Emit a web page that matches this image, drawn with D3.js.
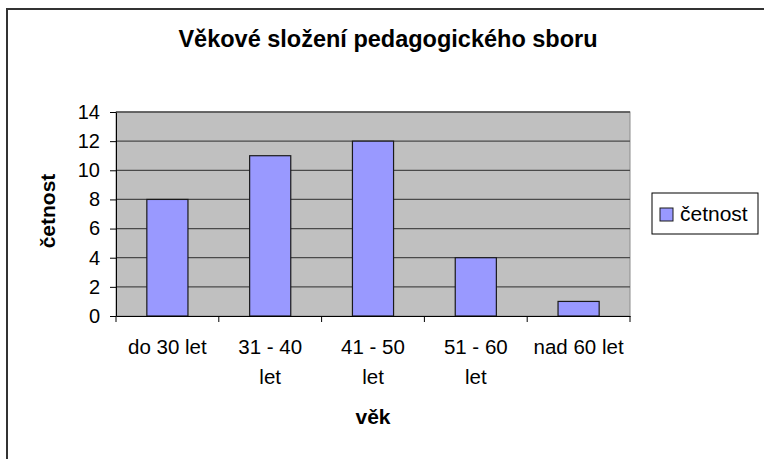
<!DOCTYPE html>
<html>
<head>
<meta charset="utf-8">
<script src="https://cdn.jsdelivr.net/npm/d3@7"></script>
<style>
  body { margin: 0; background: #fff; }
  svg { display: block; font-family: 'Liberation Sans', Arial, sans-serif; }
</style>
</head>
<body>
<svg id="chart" width="764" height="459"></svg>
<script>
/* global d3 */
const categories = ['do 30 let', '31 - 40\nlet', '41 - 50\nlet', '51 - 60\nlet', 'nad 60 let']
const counts = [8, 11, 12, 4, 1]
const yTicks = [0, 2, 4, 6, 8, 10, 12, 14]
const seriesName = 'četnost'

const svg = d3.select('#chart')
const plot = { left: 116, right: 630, top: 112, bottom: 316 }

// outer chart frame (runs off the right and bottom edge)
svg.append('rect')
  .attr('x', 7).attr('y', 9)
  .attr('width', 800).attr('height', 500)
  .attr('fill', '#fff')
  .attr('stroke', '#333')
  .attr('stroke-width', 2)

svg.append('text')
  .attr('x', 388).attr('y', 47)
  .attr('text-anchor', 'middle')
  .style('font-size', '23.5px')
  .style('font-weight', 'bold')
  .text('Věkové složení pedagogického sboru')

const x = d3.scaleBand()
  .domain(categories)
  .range([plot.left, plot.right])

const y = d3.scaleLinear()
  .domain([0, 14])
  .range([plot.bottom, plot.top])

// plot area
svg.append('rect')
  .attr('x', plot.left).attr('y', plot.top)
  .attr('width', plot.right - plot.left)
  .attr('height', plot.bottom - plot.top)
  .attr('fill', '#c0c0c0')
  .attr('stroke', '#8c8c8c')

svg.append('g')
  .selectAll('line')
  .data(yTicks.filter(d => d > 0))
  .join('line')
  .attr('x1', plot.left).attr('x2', plot.right)
  .attr('y1', d => y(d)).attr('y2', d => y(d))
  .attr('stroke', '#4a4a4a')
  .attr('stroke-width', 1.3)

// bars, 150 % gap width like Excel
const barW = x.bandwidth() * 0.4
svg.append('g')
  .selectAll('rect')
  .data(counts)
  .join('rect')
  .attr('x', (d, i) => x(categories[i]) + (x.bandwidth() - barW) / 2)
  .attr('y', d => y(d))
  .attr('width', barW)
  .attr('height', d => y(0) - y(d))
  .attr('fill', '#9999ff')
  .attr('stroke', '#1a1a1a')
  .attr('stroke-width', 1.2)

// y axis
const yAxis = svg.append('g')
  .attr('transform', `translate(${plot.left},0)`)
  .call(d3.axisLeft(y).tickValues(yTicks).tickSize(6).tickPadding(10).tickSizeOuter(0))
yAxis.selectAll('text').style('font-size', '20px').attr('fill', '#000')
yAxis.selectAll('line, path').attr('stroke', '#000')

// x axis: ticks on category boundaries
const xAxis = svg.append('g')
  .attr('transform', `translate(0,${plot.bottom})`)
  .call(d3.axisBottom(x).tickSize(0).tickSizeOuter(0).tickFormat(''))
xAxis.select('.domain').attr('stroke', '#000')
xAxis.selectAll('.tick').remove()

const bounds = categories.map(c => x(c)).concat([plot.right])
xAxis.selectAll('line.bound')
  .data(bounds)
  .join('line')
  .attr('class', 'bound')
  .attr('x1', d => d).attr('x2', d => d)
  .attr('y1', 0).attr('y2', 6)
  .attr('stroke', '#000')

const labels = xAxis.selectAll('text.cat')
  .data(categories)
  .join('text')
  .attr('class', 'cat')
  .attr('x', d => x(d) + x.bandwidth() / 2)
  .attr('y', 38)
  .attr('text-anchor', 'middle')
  .attr('fill', '#000')
  .style('font-size', '20.5px')
labels.selectAll('tspan')
  .data(d => d.split('\n'))
  .join('tspan')
  .attr('x', function () { return this.parentNode.getAttribute('x') })
  .attr('dy', (d, i) => i === 0 ? 0 : 30)
  .text(d => d)

// axis titles
svg.append('text')
  .attr('x', (plot.left + plot.right) / 2).attr('y', 424)
  .attr('text-anchor', 'middle')
  .style('font-size', '21px')
  .style('font-weight', 'bold')
  .text('věk')

svg.append('text')
  .attr('transform', 'translate(55,211) rotate(-90)')
  .attr('text-anchor', 'middle')
  .style('font-size', '21px')
  .style('font-weight', 'bold')
  .text(seriesName)

// legend
const legend = svg.append('g')
legend.append('rect')
  .attr('x', 652).attr('y', 193)
  .attr('width', 106).attr('height', 41)
  .attr('fill', '#fff')
  .attr('stroke', '#000')
legend.append('rect')
  .attr('x', 660).attr('y', 208)
  .attr('width', 13).attr('height', 13)
  .attr('fill', '#9999ff')
  .attr('stroke', '#1a1a1a')
legend.append('text')
  .attr('x', 680).attr('y', 221)
  .style('font-size', '21px')
  .text(seriesName)
</script>
</body>
</html>
